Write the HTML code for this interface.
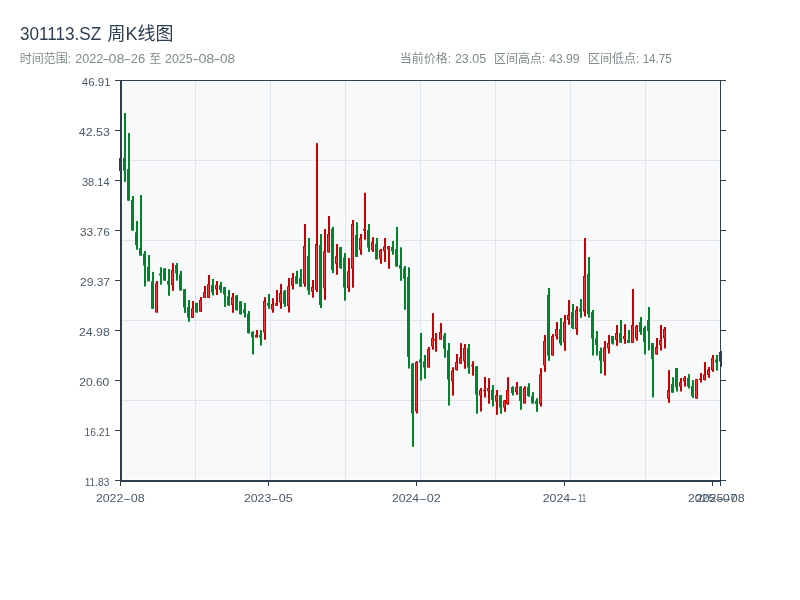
<!DOCTYPE html>
<html><head><meta charset="utf-8"><title>301113.SZ 周K线图</title><style>
html,body{margin:0;padding:0;background:#fff;width:800px;height:600px;overflow:hidden}
svg{display:block}
</style></head><body>
<svg width="800" height="600" viewBox="0 0 800 600">
<rect width="800" height="600" fill="#fff"/>
<rect x="122.5" y="81.5" width="596.5" height="397.25" fill="#f8f9fa"/><rect x="195" y="81" width="1" height="399" fill="#e1e5ea"/><rect x="270" y="81" width="1" height="399" fill="#e1e5ea"/><rect x="345" y="81" width="1" height="399" fill="#e1e5ea"/><rect x="420" y="81" width="1" height="399" fill="#e1e5ea"/><rect x="495" y="81" width="1" height="399" fill="#e1e5ea"/><rect x="570" y="81" width="1" height="399" fill="#e1e5ea"/><rect x="645" y="81" width="1" height="399" fill="#e1e5ea"/><rect x="122" y="160" width="598" height="1" fill="#e1e5ea"/><rect x="122" y="240" width="598" height="1" fill="#e1e5ea"/><rect x="122" y="320" width="598" height="1" fill="#e1e5ea"/><rect x="122" y="400" width="598" height="1" fill="#e1e5ea"/>
<rect x="120" y="158" width="2" height="13" fill="#cc0000"/><rect x="119" y="158" width="3" height="13" fill="#cc0000"/><rect x="120" y="159" width="1" height="11" fill="#ff3333"/><rect x="124" y="113" width="2" height="68.8" fill="#00862a"/><rect x="123" y="158" width="3" height="12.7" fill="#00862a"/><rect x="128" y="133" width="2" height="67.6" fill="#00862a"/><rect x="127" y="169" width="3" height="31.6" fill="#00862a"/><rect x="132" y="196" width="2" height="34.6" fill="#00862a"/><rect x="131" y="200" width="3" height="30.6" fill="#00862a"/><rect x="136" y="221" width="2" height="28.75" fill="#00862a"/><rect x="135" y="232.25" width="3" height="12.75" fill="#00862a"/><rect x="140" y="195" width="2" height="60.6" fill="#00862a"/><rect x="139" y="248" width="3" height="7.6" fill="#00862a"/><rect x="144" y="251" width="2" height="35.5" fill="#00862a"/><rect x="143" y="253.75" width="3" height="11.85" fill="#00862a"/><rect x="148" y="255" width="2" height="26.25" fill="#00862a"/><rect x="147" y="266.9" width="3" height="14.35" fill="#00862a"/><rect x="152" y="271.9" width="2" height="36.85" fill="#00862a"/><rect x="151" y="281.25" width="3" height="27.5" fill="#00862a"/><rect x="156" y="281" width="2" height="31.5" fill="#cc0000"/><rect x="155" y="283.3" width="3" height="29.2" fill="#cc0000"/><rect x="156" y="284.3" width="1" height="27.2" fill="#ff3333"/><rect x="160" y="267.25" width="2" height="17.5" fill="#00862a"/><rect x="159" y="273.5" width="3" height="2.1" fill="#00862a"/><rect x="164" y="268.1" width="2" height="12.5" fill="#00862a"/><rect x="163" y="268.5" width="3" height="12.1" fill="#00862a"/><rect x="168" y="269" width="2" height="26.8" fill="#00862a"/><rect x="167" y="281" width="3" height="3.6" fill="#00862a"/><rect x="172" y="263.1" width="2" height="27.7" fill="#cc0000"/><rect x="171" y="270" width="3" height="15" fill="#cc0000"/><rect x="172" y="271" width="1" height="13" fill="#ff3333"/><rect x="176" y="263.1" width="2" height="17.5" fill="#00862a"/><rect x="175" y="265" width="3" height="8.5" fill="#00862a"/><rect x="180" y="271" width="2" height="19.6" fill="#00862a"/><rect x="179" y="274.4" width="3" height="16" fill="#00862a"/><rect x="184" y="289" width="2" height="23.9" fill="#00862a"/><rect x="183" y="289.2" width="3" height="18.3" fill="#00862a"/><rect x="188" y="300" width="2" height="21.7" fill="#00862a"/><rect x="187" y="307" width="3" height="10.5" fill="#00862a"/><rect x="192" y="301" width="2" height="16.9" fill="#cc0000"/><rect x="191" y="308.3" width="3" height="9.6" fill="#cc0000"/><rect x="192" y="309.3" width="1" height="7.6" fill="#ff3333"/><rect x="196" y="302.9" width="2" height="9.6" fill="#00862a"/><rect x="195" y="302.9" width="3" height="9.6" fill="#00862a"/><rect x="200" y="297" width="2" height="14.7" fill="#cc0000"/><rect x="199" y="300" width="3" height="11.7" fill="#cc0000"/><rect x="200" y="301" width="1" height="9.7" fill="#ff3333"/><rect x="204" y="286" width="2" height="11.9" fill="#cc0000"/><rect x="203" y="292" width="3" height="5.9" fill="#cc0000"/><rect x="204" y="293" width="1" height="3.9" fill="#ff3333"/><rect x="208" y="275" width="2" height="22.9" fill="#cc0000"/><rect x="207" y="284.2" width="3" height="13.7" fill="#cc0000"/><rect x="208" y="285.2" width="1" height="11.7" fill="#ff3333"/><rect x="212" y="279" width="2" height="16.5" fill="#00862a"/><rect x="211" y="285" width="3" height="7.5" fill="#00862a"/><rect x="216" y="281" width="2" height="14" fill="#cc0000"/><rect x="215" y="285" width="3" height="4.4" fill="#cc0000"/><rect x="216" y="286" width="1" height="2.4" fill="#ff3333"/><rect x="220" y="281.9" width="2" height="10.85" fill="#00862a"/><rect x="219" y="285" width="3" height="5" fill="#00862a"/><rect x="224" y="286.9" width="2" height="20" fill="#00862a"/><rect x="223" y="287.25" width="3" height="7.15" fill="#00862a"/><rect x="228" y="290" width="2" height="15.6" fill="#00862a"/><rect x="227" y="296.25" width="3" height="9.35" fill="#00862a"/><rect x="232" y="293" width="2" height="19.75" fill="#cc0000"/><rect x="231" y="297.25" width="3" height="7.75" fill="#cc0000"/><rect x="232" y="298.25" width="1" height="5.75" fill="#ff3333"/><rect x="236" y="295" width="2" height="15.6" fill="#00862a"/><rect x="235" y="295.6" width="3" height="14.4" fill="#00862a"/><rect x="240" y="301.25" width="2" height="13.15" fill="#00862a"/><rect x="239" y="301.25" width="3" height="13.15" fill="#00862a"/><rect x="244" y="303" width="2" height="14.5" fill="#00862a"/><rect x="243" y="309.4" width="3" height="3.6" fill="#00862a"/><rect x="248" y="311" width="2" height="22.5" fill="#00862a"/><rect x="247" y="313.75" width="3" height="19.35" fill="#00862a"/><rect x="252" y="331.25" width="2" height="23.15" fill="#00862a"/><rect x="251" y="332" width="3" height="5.5" fill="#00862a"/><rect x="256" y="330" width="2" height="7.5" fill="#cc0000"/><rect x="255" y="335" width="3" height="2.5" fill="#cc0000"/><rect x="256" y="336" width="1" height="0.5" fill="#ff3333"/><rect x="260" y="330" width="2" height="15.6" fill="#00862a"/><rect x="259" y="335" width="3" height="2.5" fill="#00862a"/><rect x="264" y="297.2" width="2" height="42.55" fill="#cc0000"/><rect x="263" y="301" width="3" height="31.5" fill="#cc0000"/><rect x="264" y="302" width="1" height="29.5" fill="#ff3333"/><rect x="268" y="294" width="2" height="14.8" fill="#00862a"/><rect x="267" y="303" width="3" height="2.7" fill="#00862a"/><rect x="272" y="298.2" width="2" height="14.5" fill="#cc0000"/><rect x="271" y="304" width="3" height="5.7" fill="#cc0000"/><rect x="272" y="305" width="1" height="3.7" fill="#ff3333"/><rect x="276" y="290" width="2" height="15.7" fill="#cc0000"/><rect x="275" y="303" width="3" height="2.7" fill="#cc0000"/><rect x="276" y="304" width="1" height="0.7" fill="#ff3333"/><rect x="280" y="284" width="2" height="24.75" fill="#cc0000"/><rect x="279" y="293" width="3" height="9.5" fill="#cc0000"/><rect x="280" y="294" width="1" height="7.5" fill="#ff3333"/><rect x="284" y="290" width="2" height="16.9" fill="#00862a"/><rect x="283" y="291.25" width="3" height="12.5" fill="#00862a"/><rect x="288" y="278" width="2" height="34.5" fill="#cc0000"/><rect x="287" y="286.25" width="3" height="19.75" fill="#cc0000"/><rect x="288" y="287.25" width="1" height="17.75" fill="#ff3333"/><rect x="292" y="273" width="2" height="16.4" fill="#cc0000"/><rect x="291" y="278" width="3" height="7.6" fill="#cc0000"/><rect x="292" y="279" width="1" height="5.6" fill="#ff3333"/><rect x="296" y="270.8" width="2" height="12.95" fill="#00862a"/><rect x="295" y="276.25" width="3" height="7.5" fill="#00862a"/><rect x="300" y="269" width="2" height="17.7" fill="#00862a"/><rect x="299" y="278" width="3" height="8.7" fill="#00862a"/><rect x="304" y="224" width="2" height="62.7" fill="#cc0000"/><rect x="303" y="246" width="3" height="37.75" fill="#cc0000"/><rect x="304" y="247" width="1" height="35.75" fill="#ff3333"/><rect x="308" y="238" width="2" height="56.8" fill="#00862a"/><rect x="307" y="256" width="3" height="34.4" fill="#00862a"/><rect x="312" y="280" width="2" height="17.7" fill="#cc0000"/><rect x="311" y="287" width="3" height="4.7" fill="#cc0000"/><rect x="312" y="288" width="1" height="2.7" fill="#ff3333"/><rect x="316" y="143.1" width="2" height="148.8" fill="#cc0000"/><rect x="315" y="244" width="3" height="46" fill="#cc0000"/><rect x="316" y="245" width="1" height="44" fill="#ff3333"/><rect x="320" y="234" width="2" height="74" fill="#00862a"/><rect x="319" y="245" width="3" height="60" fill="#00862a"/><rect x="324" y="229" width="2" height="70.8" fill="#cc0000"/><rect x="323" y="251.25" width="3" height="37.05" fill="#cc0000"/><rect x="324" y="252.25" width="1" height="35.05" fill="#ff3333"/><rect x="328" y="216" width="2" height="36.5" fill="#cc0000"/><rect x="327" y="234" width="3" height="18.5" fill="#cc0000"/><rect x="328" y="235" width="1" height="16.5" fill="#ff3333"/><rect x="332" y="226.9" width="2" height="46.1" fill="#00862a"/><rect x="331" y="228.75" width="3" height="41.25" fill="#00862a"/><rect x="336" y="244" width="2" height="30.75" fill="#cc0000"/><rect x="335" y="256.25" width="3" height="7.5" fill="#cc0000"/><rect x="336" y="257.25" width="1" height="5.5" fill="#ff3333"/><rect x="340" y="246.9" width="2" height="21.85" fill="#00862a"/><rect x="339" y="247.25" width="3" height="20.75" fill="#00862a"/><rect x="344" y="253" width="2" height="47.6" fill="#00862a"/><rect x="343" y="257.5" width="3" height="30" fill="#00862a"/><rect x="348" y="258" width="2" height="33.9" fill="#cc0000"/><rect x="347" y="271.25" width="3" height="16.75" fill="#cc0000"/><rect x="348" y="272.25" width="1" height="14.75" fill="#ff3333"/><rect x="352" y="220" width="2" height="67.75" fill="#cc0000"/><rect x="351" y="224" width="3" height="44.75" fill="#cc0000"/><rect x="352" y="225" width="1" height="42.75" fill="#ff3333"/><rect x="356" y="222.25" width="2" height="34.65" fill="#00862a"/><rect x="355" y="235" width="3" height="21.9" fill="#00862a"/><rect x="360" y="234" width="2" height="20.75" fill="#cc0000"/><rect x="359" y="238" width="3" height="12" fill="#cc0000"/><rect x="360" y="239" width="1" height="10" fill="#ff3333"/><rect x="364" y="192.75" width="2" height="47" fill="#cc0000"/><rect x="363" y="229" width="3" height="1.6" fill="#cc0000"/><rect x="368" y="224" width="2" height="27.9" fill="#00862a"/><rect x="367" y="230" width="3" height="17.5" fill="#00862a"/><rect x="372" y="237.25" width="2" height="14.65" fill="#cc0000"/><rect x="371" y="241.9" width="3" height="8.1" fill="#cc0000"/><rect x="372" y="242.9" width="1" height="6.1" fill="#ff3333"/><rect x="376" y="238" width="2" height="21.4" fill="#00862a"/><rect x="375" y="243.75" width="3" height="15.65" fill="#00862a"/><rect x="380" y="249" width="2" height="14.75" fill="#cc0000"/><rect x="379" y="250" width="3" height="8.75" fill="#cc0000"/><rect x="380" y="251" width="1" height="6.75" fill="#ff3333"/><rect x="384" y="238" width="2" height="23.9" fill="#cc0000"/><rect x="383" y="246.25" width="3" height="5" fill="#cc0000"/><rect x="384" y="247.25" width="1" height="3" fill="#ff3333"/><rect x="388" y="246" width="2" height="22.75" fill="#cc0000"/><rect x="387" y="246.25" width="3" height="3.15" fill="#cc0000"/><rect x="388" y="247.25" width="1" height="1.15" fill="#ff3333"/><rect x="392" y="241" width="2" height="13.75" fill="#00862a"/><rect x="391" y="246.9" width="3" height="4.35" fill="#00862a"/><rect x="396" y="226.9" width="2" height="39.8" fill="#00862a"/><rect x="395" y="249" width="3" height="17.5" fill="#00862a"/><rect x="400" y="247.3" width="2" height="33.5" fill="#00862a"/><rect x="399" y="265" width="3" height="3.75" fill="#00862a"/><rect x="404" y="266" width="2" height="43.75" fill="#00862a"/><rect x="403" y="268.3" width="3" height="10.45" fill="#00862a"/><rect x="408" y="267.25" width="2" height="101.25" fill="#00862a"/><rect x="407" y="276.9" width="3" height="80" fill="#00862a"/><rect x="412" y="363.1" width="2" height="83.7" fill="#00862a"/><rect x="411" y="363.75" width="3" height="49.75" fill="#00862a"/><rect x="416" y="361.25" width="2" height="52.25" fill="#cc0000"/><rect x="415" y="361.9" width="3" height="49.6" fill="#cc0000"/><rect x="416" y="362.9" width="1" height="47.6" fill="#ff3333"/><rect x="420" y="333" width="2" height="47.6" fill="#00862a"/><rect x="419" y="359.4" width="3" height="3.1" fill="#00862a"/><rect x="424" y="355" width="2" height="23.75" fill="#00862a"/><rect x="423" y="361.25" width="3" height="6.25" fill="#00862a"/><rect x="428" y="347" width="2" height="20.5" fill="#cc0000"/><rect x="427" y="349" width="3" height="18.5" fill="#cc0000"/><rect x="428" y="350" width="1" height="16.5" fill="#ff3333"/><rect x="432" y="313.1" width="2" height="36.6" fill="#cc0000"/><rect x="431" y="338" width="3" height="8.5" fill="#cc0000"/><rect x="432" y="339" width="1" height="6.5" fill="#ff3333"/><rect x="435" y="333" width="2" height="18.7" fill="#cc0000"/><rect x="434" y="339.3" width="3" height="1.4" fill="#cc0000"/><rect x="440" y="323" width="2" height="16.7" fill="#cc0000"/><rect x="439" y="332" width="3" height="7.7" fill="#cc0000"/><rect x="440" y="333" width="1" height="5.7" fill="#ff3333"/><rect x="444" y="333" width="2" height="24.7" fill="#00862a"/><rect x="443" y="335.3" width="3" height="13.4" fill="#00862a"/><rect x="448" y="343" width="2" height="62.6" fill="#00862a"/><rect x="447" y="350.3" width="3" height="29.1" fill="#00862a"/><rect x="452" y="367.25" width="2" height="28.35" fill="#cc0000"/><rect x="451" y="370.6" width="3" height="10.65" fill="#cc0000"/><rect x="452" y="371.6" width="1" height="8.65" fill="#ff3333"/><rect x="456" y="354" width="2" height="16.6" fill="#cc0000"/><rect x="455" y="361.9" width="3" height="8.1" fill="#cc0000"/><rect x="456" y="362.9" width="1" height="6.1" fill="#ff3333"/><rect x="460" y="343.1" width="2" height="20.65" fill="#cc0000"/><rect x="459" y="357.5" width="3" height="6.25" fill="#cc0000"/><rect x="460" y="358.5" width="1" height="4.25" fill="#ff3333"/><rect x="464" y="344" width="2" height="24.75" fill="#cc0000"/><rect x="463" y="348" width="3" height="13.25" fill="#cc0000"/><rect x="464" y="349" width="1" height="11.25" fill="#ff3333"/><rect x="468" y="344" width="2" height="29.75" fill="#00862a"/><rect x="467" y="348" width="3" height="19.5" fill="#00862a"/><rect x="472" y="361.25" width="2" height="14.35" fill="#cc0000"/><rect x="471" y="365" width="3" height="1.25" fill="#cc0000"/><rect x="476" y="366" width="2" height="47.75" fill="#00862a"/><rect x="475" y="366.25" width="3" height="28.15" fill="#00862a"/><rect x="480" y="388" width="2" height="23.5" fill="#cc0000"/><rect x="479" y="390" width="3" height="5.6" fill="#cc0000"/><rect x="480" y="391" width="1" height="3.6" fill="#ff3333"/><rect x="484" y="376.9" width="2" height="20.6" fill="#cc0000"/><rect x="483" y="390" width="3" height="1.25" fill="#cc0000"/><rect x="488" y="378.1" width="2" height="25.65" fill="#cc0000"/><rect x="487" y="388" width="3" height="3.25" fill="#cc0000"/><rect x="488" y="389" width="1" height="1.25" fill="#ff3333"/><rect x="492" y="385" width="2" height="21.5" fill="#00862a"/><rect x="491" y="390" width="3" height="10" fill="#00862a"/><rect x="496" y="390" width="2" height="24.8" fill="#cc0000"/><rect x="495" y="395" width="3" height="6.5" fill="#cc0000"/><rect x="496" y="396" width="1" height="4.5" fill="#ff3333"/><rect x="500" y="395" width="2" height="18.8" fill="#00862a"/><rect x="499" y="395.2" width="3" height="12.3" fill="#00862a"/><rect x="504" y="400" width="2" height="11.8" fill="#cc0000"/><rect x="503" y="400.5" width="3" height="7" fill="#cc0000"/><rect x="504" y="401.5" width="1" height="5" fill="#ff3333"/><rect x="507" y="377.2" width="2" height="27.6" fill="#cc0000"/><rect x="506" y="390" width="3" height="14" fill="#cc0000"/><rect x="507" y="391" width="1" height="12" fill="#ff3333"/><rect x="512" y="386.2" width="2" height="9.3" fill="#00862a"/><rect x="511" y="387" width="3" height="6" fill="#00862a"/><rect x="516" y="382" width="2" height="12.8" fill="#cc0000"/><rect x="515" y="387" width="3" height="5" fill="#cc0000"/><rect x="516" y="388" width="1" height="3" fill="#ff3333"/><rect x="520" y="386.2" width="2" height="23.6" fill="#00862a"/><rect x="519" y="386.5" width="3" height="14.5" fill="#00862a"/><rect x="524" y="386.2" width="2" height="17.3" fill="#cc0000"/><rect x="523" y="388" width="3" height="15.5" fill="#cc0000"/><rect x="524" y="389" width="1" height="13.5" fill="#ff3333"/><rect x="528" y="383.2" width="2" height="13.6" fill="#00862a"/><rect x="527" y="387" width="3" height="9" fill="#00862a"/><rect x="532" y="392.2" width="2" height="11.3" fill="#00862a"/><rect x="531" y="396" width="3" height="7.5" fill="#00862a"/><rect x="536" y="398.2" width="2" height="13.6" fill="#00862a"/><rect x="535" y="401" width="3" height="3" fill="#00862a"/><rect x="540" y="368.2" width="2" height="38.3" fill="#cc0000"/><rect x="539" y="374.5" width="3" height="29.5" fill="#cc0000"/><rect x="540" y="375.5" width="1" height="27.5" fill="#ff3333"/><rect x="544" y="335" width="2" height="36.8" fill="#cc0000"/><rect x="543" y="341" width="3" height="24.5" fill="#cc0000"/><rect x="544" y="342" width="1" height="22.5" fill="#ff3333"/><rect x="548" y="288" width="2" height="72.8" fill="#00862a"/><rect x="547" y="295" width="3" height="60.5" fill="#00862a"/><rect x="552" y="334" width="2" height="21.5" fill="#cc0000"/><rect x="551" y="336" width="3" height="19.5" fill="#cc0000"/><rect x="552" y="337" width="1" height="17.5" fill="#ff3333"/><rect x="556" y="322" width="2" height="17.5" fill="#cc0000"/><rect x="555" y="329" width="3" height="7.5" fill="#cc0000"/><rect x="556" y="330" width="1" height="5.5" fill="#ff3333"/><rect x="560" y="318" width="2" height="27.5" fill="#00862a"/><rect x="559" y="329" width="3" height="14.5" fill="#00862a"/><rect x="564" y="315" width="2" height="35.8" fill="#cc0000"/><rect x="563" y="322" width="3" height="20.5" fill="#cc0000"/><rect x="564" y="323" width="1" height="18.5" fill="#ff3333"/><rect x="568" y="300" width="2" height="24.8" fill="#cc0000"/><rect x="567" y="315" width="3" height="5" fill="#cc0000"/><rect x="568" y="316" width="1" height="3" fill="#ff3333"/><rect x="572" y="304" width="2" height="25" fill="#00862a"/><rect x="571" y="312" width="3" height="16" fill="#00862a"/><rect x="576" y="306.2" width="2" height="28.6" fill="#cc0000"/><rect x="575" y="310" width="3" height="19" fill="#cc0000"/><rect x="576" y="311" width="1" height="17" fill="#ff3333"/><rect x="580" y="299" width="2" height="18.8" fill="#00862a"/><rect x="579" y="308.5" width="3" height="3" fill="#00862a"/><rect x="584" y="238" width="2" height="78.5" fill="#cc0000"/><rect x="583" y="276" width="3" height="35.5" fill="#cc0000"/><rect x="584" y="277" width="1" height="33.5" fill="#ff3333"/><rect x="588" y="257" width="2" height="60.8" fill="#00862a"/><rect x="587" y="274" width="3" height="40" fill="#00862a"/><rect x="592" y="310" width="2" height="45.5" fill="#00862a"/><rect x="591" y="312" width="3" height="26.5" fill="#00862a"/><rect x="596" y="331" width="2" height="24.5" fill="#00862a"/><rect x="595" y="338.5" width="3" height="6.5" fill="#00862a"/><rect x="600" y="347.5" width="2" height="26" fill="#00862a"/><rect x="599" y="351" width="3" height="9.5" fill="#00862a"/><rect x="604" y="341" width="2" height="34.5" fill="#cc0000"/><rect x="603" y="347.5" width="3" height="14" fill="#cc0000"/><rect x="604" y="348.5" width="1" height="12" fill="#ff3333"/><rect x="608" y="335" width="2" height="18.5" fill="#cc0000"/><rect x="607" y="343" width="3" height="5.5" fill="#cc0000"/><rect x="608" y="344" width="1" height="3.5" fill="#ff3333"/><rect x="612" y="336" width="2" height="8.5" fill="#00862a"/><rect x="611" y="336" width="3" height="7.5" fill="#00862a"/><rect x="616" y="325" width="2" height="20.8" fill="#cc0000"/><rect x="615" y="333" width="3" height="7" fill="#cc0000"/><rect x="616" y="334" width="1" height="5" fill="#ff3333"/><rect x="620" y="320" width="2" height="22.8" fill="#00862a"/><rect x="619" y="333" width="3" height="9.5" fill="#00862a"/><rect x="624" y="324.25" width="2" height="19.5" fill="#cc0000"/><rect x="623" y="336" width="3" height="3" fill="#cc0000"/><rect x="624" y="337" width="1" height="1" fill="#ff3333"/><rect x="628" y="330" width="2" height="13" fill="#00862a"/><rect x="627" y="340" width="3" height="3" fill="#00862a"/><rect x="632" y="289" width="2" height="54" fill="#cc0000"/><rect x="631" y="325" width="3" height="18" fill="#cc0000"/><rect x="632" y="326" width="1" height="16" fill="#ff3333"/><rect x="636" y="325" width="2" height="15.75" fill="#cc0000"/><rect x="635" y="326" width="3" height="12.5" fill="#cc0000"/><rect x="636" y="327" width="1" height="10.5" fill="#ff3333"/><rect x="640" y="317" width="2" height="17.8" fill="#00862a"/><rect x="639" y="322" width="3" height="10" fill="#00862a"/><rect x="644" y="326" width="2" height="28.5" fill="#00862a"/><rect x="643" y="328" width="3" height="14" fill="#00862a"/><rect x="648" y="307" width="2" height="43.5" fill="#00862a"/><rect x="647" y="320" width="3" height="11" fill="#00862a"/><rect x="652" y="343" width="2" height="54.5" fill="#00862a"/><rect x="651" y="343" width="3" height="16" fill="#00862a"/><rect x="656" y="338" width="2" height="16.5" fill="#cc0000"/><rect x="655" y="347" width="3" height="7.5" fill="#cc0000"/><rect x="656" y="348" width="1" height="5.5" fill="#ff3333"/><rect x="660" y="325" width="2" height="25.5" fill="#cc0000"/><rect x="659" y="340" width="3" height="5" fill="#cc0000"/><rect x="660" y="341" width="1" height="3" fill="#ff3333"/><rect x="664" y="327" width="2" height="21.5" fill="#cc0000"/><rect x="663" y="329" width="3" height="9.5" fill="#cc0000"/><rect x="664" y="330" width="1" height="7.5" fill="#ff3333"/><rect x="668" y="370.1" width="2" height="32.7" fill="#cc0000"/><rect x="667" y="390" width="3" height="8.6" fill="#cc0000"/><rect x="668" y="391" width="1" height="6.6" fill="#ff3333"/><rect x="672" y="377.25" width="2" height="15.35" fill="#00862a"/><rect x="671" y="384" width="3" height="8.6" fill="#00862a"/><rect x="676" y="368.1" width="2" height="23.4" fill="#00862a"/><rect x="675" y="368.1" width="3" height="19.3" fill="#00862a"/><rect x="680" y="378" width="2" height="13.5" fill="#cc0000"/><rect x="679" y="382" width="3" height="4.6" fill="#cc0000"/><rect x="680" y="383" width="1" height="2.6" fill="#ff3333"/><rect x="684" y="376.1" width="2" height="10.5" fill="#cc0000"/><rect x="683" y="378" width="3" height="3.4" fill="#cc0000"/><rect x="684" y="379" width="1" height="1.4" fill="#ff3333"/><rect x="688" y="374.1" width="2" height="14.4" fill="#00862a"/><rect x="687" y="378" width="3" height="8.6" fill="#00862a"/><rect x="692" y="380.1" width="2" height="17.8" fill="#00862a"/><rect x="691" y="385.9" width="3" height="10.1" fill="#00862a"/><rect x="696" y="379.1" width="2" height="19.5" fill="#cc0000"/><rect x="695" y="379.1" width="3" height="19.5" fill="#cc0000"/><rect x="696" y="380.1" width="1" height="17.5" fill="#ff3333"/><rect x="700" y="373" width="2" height="9.5" fill="#cc0000"/><rect x="699" y="378.5" width="3" height="1.5" fill="#cc0000"/><rect x="704" y="362" width="2" height="18.5" fill="#cc0000"/><rect x="703" y="374.5" width="3" height="5.5" fill="#cc0000"/><rect x="704" y="375.5" width="1" height="3.5" fill="#ff3333"/><rect x="708" y="367" width="2" height="10.8" fill="#cc0000"/><rect x="707" y="369.5" width="3" height="5.5" fill="#cc0000"/><rect x="708" y="370.5" width="1" height="3.5" fill="#ff3333"/><rect x="712" y="355" width="2" height="16.8" fill="#cc0000"/><rect x="711" y="358" width="3" height="12" fill="#cc0000"/><rect x="712" y="359" width="1" height="10" fill="#ff3333"/><rect x="716" y="355" width="2" height="15.5" fill="#00862a"/><rect x="715" y="359.5" width="3" height="3" fill="#00862a"/><rect x="720" y="351" width="2" height="15.8" fill="#cc0000"/><rect x="719" y="352" width="3" height="9.5" fill="#cc0000"/><rect x="720" y="353" width="1" height="7.5" fill="#ff3333"/>
<rect x="115" y="80" width="611" height="1" fill="#2c3e50"/><rect x="120" y="80" width="2" height="402" fill="#2c3e50"/><rect x="720" y="80" width="1" height="406" fill="#2c3e50"/><rect x="120" y="480" width="600.5" height="2" fill="#2c3e50"/><rect x="720" y="480" width="6" height="1" fill="#2c3e50"/><rect x="115" y="80" width="5" height="1" fill="#2c3e50"/><rect x="721" y="80" width="5" height="1" fill="#2c3e50"/><rect x="115" y="130" width="5" height="1" fill="#2c3e50"/><rect x="721" y="130" width="5" height="1" fill="#2c3e50"/><rect x="115" y="180" width="5" height="1" fill="#2c3e50"/><rect x="721" y="180" width="5" height="1" fill="#2c3e50"/><rect x="115" y="230" width="5" height="1" fill="#2c3e50"/><rect x="721" y="230" width="5" height="1" fill="#2c3e50"/><rect x="115" y="280" width="5" height="1" fill="#2c3e50"/><rect x="721" y="280" width="5" height="1" fill="#2c3e50"/><rect x="115" y="330" width="5" height="1" fill="#2c3e50"/><rect x="721" y="330" width="5" height="1" fill="#2c3e50"/><rect x="115" y="380" width="5" height="1" fill="#2c3e50"/><rect x="721" y="380" width="5" height="1" fill="#2c3e50"/><rect x="115" y="430" width="5" height="1" fill="#2c3e50"/><rect x="721" y="430" width="5" height="1" fill="#2c3e50"/><rect x="115" y="480" width="5" height="1" fill="#2c3e50"/><rect x="721" y="480" width="5" height="1" fill="#2c3e50"/><rect x="120" y="482" width="1" height="4" fill="#2c3e50"/><rect x="268" y="482" width="1" height="4" fill="#2c3e50"/><rect x="416" y="482" width="1" height="4" fill="#2c3e50"/><rect x="564" y="482" width="1" height="4" fill="#2c3e50"/><rect x="712" y="482" width="1" height="4" fill="#2c3e50"/><rect x="720" y="482" width="1" height="4" fill="#2c3e50"/>
<g font-family='"Liberation Sans", "Noto Sans CJK SC", sans-serif'>
<text transform="translate(20.09 40) scale(0.9512 1)" font-size="18" fill="#2c3e50">301113.SZ</text>
<text x="107.5" y="40" font-size="18" fill="#2c3e50">周K线图</text>
<text x="19.7" y="62.8" font-size="12" fill="#7f8c8d">时间范围:</text>
<text transform="translate(75.28 62.8) scale(1.0431 1)" font-size="12" fill="#7f8c8d">2022</text>
<text transform="translate(102.42 62.8) scale(1.7667 1)" font-size="12" fill="#7f8c8d">-</text>
<text transform="translate(108.61 62.8) scale(1.1878 1)" font-size="12" fill="#7f8c8d">08</text>
<text transform="translate(123.82 62.8) scale(1.7667 1)" font-size="12" fill="#7f8c8d">-</text>
<text transform="translate(130.81 62.8) scale(1.0735 1)" font-size="12" fill="#7f8c8d">26</text>
<text x="149.25" y="62.8" font-size="12" fill="#7f8c8d">至</text>
<text transform="translate(165.08 62.8) scale(1.0330 1)" font-size="12" fill="#7f8c8d">2025</text>
<text transform="translate(192.22 62.8) scale(1.7667 1)" font-size="12" fill="#7f8c8d">-</text>
<text transform="translate(198.4 62.8) scale(1.1918 1)" font-size="12" fill="#7f8c8d">08</text>
<text transform="translate(213.62 62.8) scale(1.7667 1)" font-size="12" fill="#7f8c8d">-</text>
<text transform="translate(220.04 62.8) scale(1.1265 1)" font-size="12" fill="#7f8c8d">08</text>
<text x="399.85" y="62.8" font-size="12" fill="#7f8c8d">当前价格:</text>
<text transform="translate(454.88 62.8) scale(1.0448 1)" font-size="12" fill="#7f8c8d">23.05</text>
<text x="493.95" y="62.8" font-size="12" fill="#7f8c8d">区间高点:</text>
<text transform="translate(549.15 62.8) scale(1.0154 1)" font-size="12" fill="#7f8c8d">43.99</text>
<text x="588.05" y="62.8" font-size="12" fill="#7f8c8d">区间低点:</text>
<text transform="translate(642.63 62.8) scale(0.9684 1)" font-size="12" fill="#7f8c8d">14.75</text>
<text transform="translate(81.84 86) scale(1.0430 1)" font-size="11" fill="#4a5a6a">46.91</text>
<text transform="translate(78.72 136) scale(1.1308 1)" font-size="11" fill="#4a5a6a">42.53</text>
<text x="82" y="186" font-size="11" fill="#4a5a6a">38.14</text>
<text transform="translate(79.96 236) scale(1.0849 1)" font-size="11" fill="#4a5a6a">33.76</text>
<text transform="translate(79.95 286) scale(1.0943 1)" font-size="11" fill="#4a5a6a">29.37</text>
<text transform="translate(78.94 336) scale(1.1226 1)" font-size="11" fill="#4a5a6a">24.98</text>
<text transform="translate(79.2 386) scale(1.0935 1)" font-size="11" fill="#4a5a6a">20.60</text>
<text transform="translate(84.5 436) scale(0.9371 1)" font-size="11" fill="#4a5a6a">16.21</text>
<text transform="translate(84.71 486) scale(0.9216 1)" font-size="11" fill="#4a5a6a">11.83</text>
<text transform="translate(95.94 502) scale(1.1191 1)" font-size="11" fill="#4a5a6a">2022</text>
<text transform="translate(123.22 502) scale(2.0545 1)" font-size="11" fill="#4a5a6a">-</text>
<text transform="translate(130.63 502) scale(1.1467 1)" font-size="11" fill="#4a5a6a">08</text>
<text transform="translate(243.94 502) scale(1.1191 1)" font-size="11" fill="#4a5a6a">2023</text>
<text transform="translate(271.22 502) scale(2.0545 1)" font-size="11" fill="#4a5a6a">-</text>
<text transform="translate(278.63 502) scale(1.1467 1)" font-size="11" fill="#4a5a6a">05</text>
<text transform="translate(391.95 502) scale(1.1074 1)" font-size="11" fill="#4a5a6a">2024</text>
<text transform="translate(419.22 502) scale(2.0545 1)" font-size="11" fill="#4a5a6a">-</text>
<text transform="translate(426.63 502) scale(1.1467 1)" font-size="11" fill="#4a5a6a">02</text>
<text transform="translate(542.69 502) scale(1.1221 1)" font-size="11" fill="#4a5a6a">2024</text>
<text transform="translate(570.05 502) scale(1.9091 1)" font-size="11" fill="#4a5a6a">-</text>
<text transform="translate(577.95 502) scale(0.7317 1)" font-size="11" fill="#4a5a6a">11</text>
<text transform="translate(687.94 502) scale(1.1191 1)" font-size="11" fill="#4a5a6a">2025</text>
<text transform="translate(715.22 502) scale(2.0545 1)" font-size="11" fill="#4a5a6a">-</text>
<text transform="translate(722.63 502) scale(1.1467 1)" font-size="11" fill="#4a5a6a">07</text>
<text transform="translate(695.94 502) scale(1.1191 1)" font-size="11" fill="#4a5a6a">2025</text>
<text transform="translate(723.22 502) scale(2.0545 1)" font-size="11" fill="#4a5a6a">-</text>
<text transform="translate(730.63 502) scale(1.1467 1)" font-size="11" fill="#4a5a6a">08</text>
</g>
</svg>
</body></html>
